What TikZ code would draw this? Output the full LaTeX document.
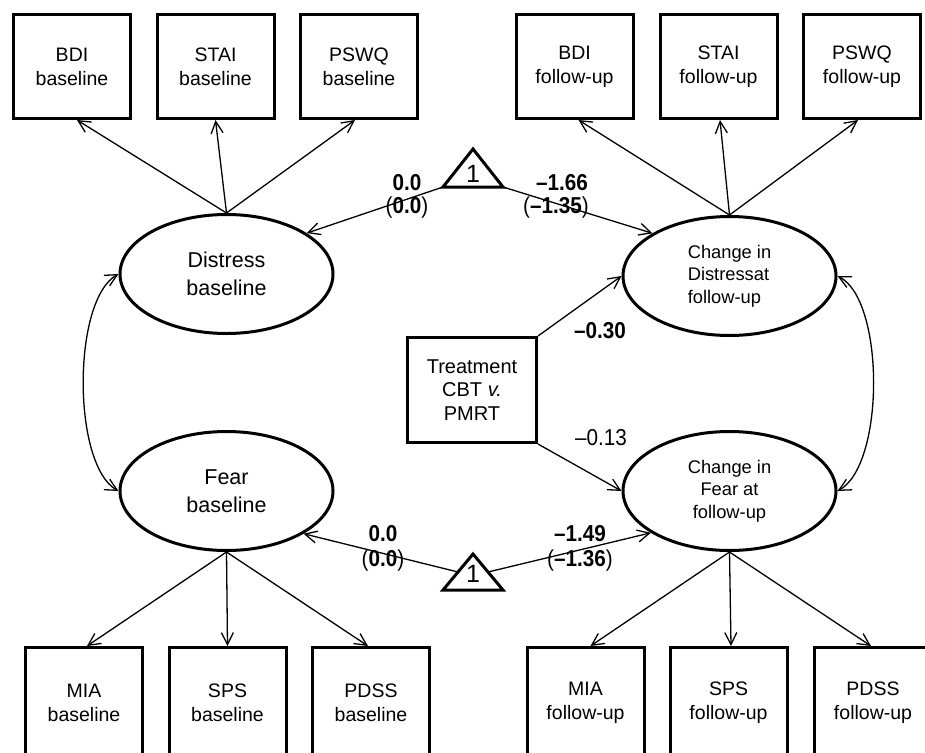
\documentclass[tikz,border=0pt]{standalone}
\usepackage{fontspec}
\setmainfont{Liberation Sans}
\newfontfamily\numfont[FakeStretch=0.9]{Liberation Sans}
\usetikzlibrary{shapes.geometric,arrows.meta}
\begin{document}
\begin{tikzpicture}[x=1pt,y=-1pt,
  obs/.style={draw, line width=3pt, minimum width=117pt, minimum height=104pt, inner sep=0pt, align=center, font=\fontsize{19.5}{24}\selectfont},
  lat/.style={draw, ellipse, line width=3pt, minimum width=213pt, minimum height=119pt, inner sep=0pt, align=center, font=\fontsize{21.5}{28}\selectfont},
  latsm/.style={lat, font=\fontsize{18.3}{22.5}\selectfont},
  conn/.style={line width=1.3pt, -{Straight Barb[length=12pt,width=12pt]}},
  dconn/.style={line width=1.3pt, {Straight Barb[length=12pt,width=12pt]}-{Straight Barb[length=12pt,width=12pt]}},
  est/.style={inner sep=0pt, font=\fontsize{23}{26}\numfont},
  tri/.style={draw, line width=3pt, line join=miter},
  trilabel/.style={inner sep=0pt, font=\fontsize{25}{25}\selectfont}
]
\path[use as bounding box] (0,0) rectangle (925,752);
\clip (0,0) rectangle (925,752);

% top observed boxes
\node[obs] (bdiB)  at (72,66.5)   {BDI\\baseline};
\node[obs] (staiB) at (215.5,66.5) {STAI\\baseline};
\node[obs] (pswqB) at (359,66.5)  {PSWQ\\baseline};
\node[obs] (bdiF)  at (574.5,66.5) {BDI\\follow-up};
\node[obs] (staiF) at (718.5,66.5) {STAI\\follow-up};
\node[obs] (pswqF) at (862,66.5)  {PSWQ\\follow-up};

% bottom observed boxes (bottom edges run off the page)
\tikzset{obsb/.style={obs, minimum height=110pt}}
\node[obsb] (miaB)  at (84,702.5)   {MIA\\baseline};
\node[obsb] (spsB)  at (227.5,702.5) {SPS\\baseline};
\node[obsb] (pdssB) at (371,702.5)  {PDSS\\baseline};
\node[obsb] (miaF)  at (585.5,702.5) {MIA\\follow-up};
\node[obsb] (spsF)  at (728.5,702.5) {SPS\\follow-up};
\node[obsb] (pdssF) at (873,702.5)  {PDSS\\follow-up};

% latent ellipses
\node[lat] (distB) at (226.5,274) {Distress\\baseline};
\node[lat] (fearB) at (226.5,491) {Fear\\baseline};
\node[latsm, align=left] (chgD) at (729.5,276) {Change in\\Distressat\\follow-up};
\node[latsm] (chgF) at (729.5,491) {Change in\\Fear at\\follow-up};

% treatment
\node[obs, minimum width=129pt, minimum height=105pt, font=\fontsize{20}{23.6}\selectfont] (treat) at (472,390) {Treatment\\CBT \textit{v.}\\PMRT};

% triangles
\coordinate (tA) at (473,149);
\coordinate (tL) at (443,187);
\coordinate (tR) at (503,187);
\draw[tri] (tA) -- (tL) -- (tR) -- cycle;
\node[trilabel] (oneT) at (473,174) {1};

\coordinate (bA) at (473,554);
\coordinate (bL) at (443,590);
\coordinate (bR) at (503,590);
\coordinate (bLm) at (458,572);
\coordinate (bRm) at (488,572);
\draw[tri] (bA) -- (bL) -- (bR) -- cycle;
\node[trilabel] (oneB) at (473,574) {1};

% loadings
\draw[conn] (distB.north) -- ([xshift=5pt]bdiB.south);
\draw[conn] (distB.north) -- (staiB.south);
\draw[conn] (distB.north) -- ([xshift=-4pt]pswqB.south);
\draw[conn] (chgD.north) -- ([xshift=4pt]bdiF.south);
\draw[conn] (chgD.north) -- ([xshift=1.5pt]staiF.south);
\draw[conn] (chgD.north) -- ([xshift=-4pt]pswqF.south);
\draw[conn] (fearB.south) -- ([xshift=3pt]miaB.north);
\draw[conn] (fearB.south) -- (spsB.north);
\draw[conn] (fearB.south) -- ([xshift=-3pt]pdssB.north);
\draw[conn] (chgF.south) -- ([xshift=5pt]miaF.north);
\draw[conn] (chgF.south) -- ([xshift=2.5pt]spsF.north);
\draw[conn] (chgF.south) -- ([xshift=-2pt]pdssF.north);

% means
\draw[conn] (tL) -- (distB.27);
\draw[conn] (tR) -- (chgD.151);
\draw[conn] (bLm) -- (fearB.331);
\draw[conn] (bRm) -- (chgF.208);

% treatment effects
\draw[conn] (treat.north east) -- (chgD.west);
\draw[conn] (treat.south east) -- (chgF.west);

% covariances
\draw[dconn] (distB.west) .. controls (72,300) and (72,465) .. (fearB.west);
\draw[dconn] (chgD.east) .. controls (885,300) and (885,465) .. (chgF.east);

% estimates
\node[est] (l1) at (407,183) {\textbf{0.0}};
\node[est] (l2) at (407,208) {(\textbf{0.0})};
\node[est] (l3) at (562,183) {\textbf{\textendash1.66}};
\node[est] (l4) at (556,208) {(\textbf{\textendash1.35})};
\node[est] (l5) at (383,534) {\textbf{0.0}};
\node[est] (l6) at (383,561) {(\textbf{0.0})};
\node[est] (l7) at (580,534) {\textbf{\textendash1.49}};
\node[est] (l8) at (580,561) {(\textbf{\textendash1.36})};
\node[est] (l9) at (600,331) {\textbf{\textendash0.30}};
\node[est] (l10) at (601,438) {\textendash0.13};
\end{tikzpicture}
\end{document}
